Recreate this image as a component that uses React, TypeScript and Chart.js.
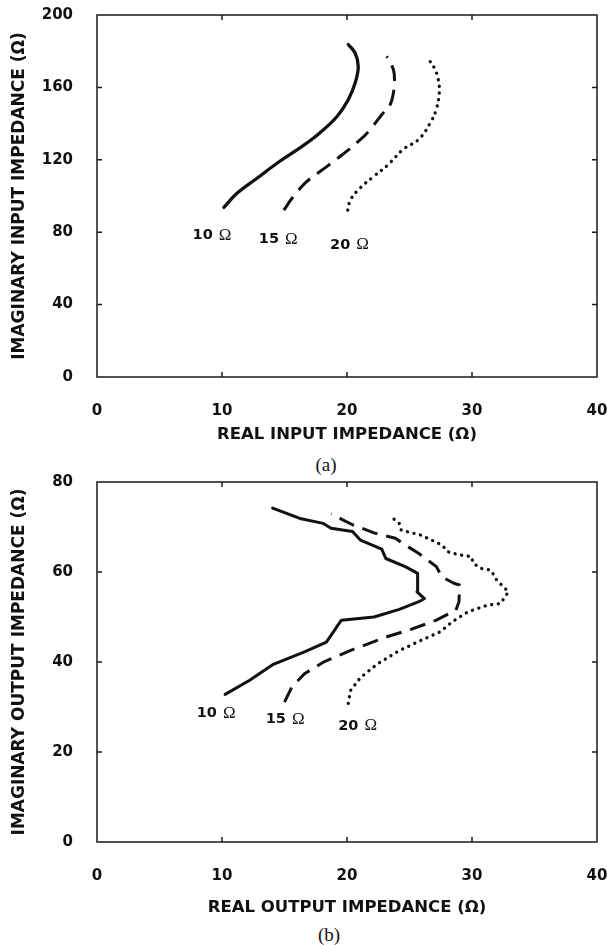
import React, { useEffect, useRef } from "react";
import { Chart, registerables } from "chart.js";

Chart.register(...registerables);

// ---------- shared ----------
const LOAD_NUMBERS = ["10", "15", "20"];
const X_MIN = 0;
const X_MAX = 40;
const X_STEP = 10;

// ---------- (a) input impedance ----------
const A_Y_MAX = 200;
const A_Y_STEP = 40;
const A_X_TITLE = "REAL INPUT IMPEDANCE (Ω)";
const A_Y_TITLE = "IMAGINARY INPUT IMPEDANCE (Ω)";

const aReal10 = [10.15, 11.2, 12.8, 14.4, 16.2, 17.8, 19.2, 20.1, 20.65, 20.9, 20.65, 20.1];
const aImag10 = [93.7, 101.5, 109.8, 118.1, 126.4, 134.7, 143.9, 153.2, 162.4, 171.6, 179.0, 183.7];

const aReal15 = [14.95, 15.7, 16.77, 17.84, 19.44, 21.04, 21.84, 22.78, 23.45, 23.71, 23.8, 23.71, 23.18];
const aImag15 = [92.2, 99.6, 107.9, 113.5, 121.8, 131.0, 136.6, 144.9, 150.4, 156.9, 163.3, 169.8, 177.2];

const aReal20 = [20.06, 20.3, 21.08, 22.17, 23.26, 24.5, 25.74, 26.67, 27.14, 27.38, 27.3, 26.98, 26.5];
const aImag20 = [92.2, 98.2, 104.6, 111.0, 117.1, 125.8, 131.3, 140.5, 147.9, 157.0, 164.4, 170.8, 175.8];

const aLabelX = [9.2, 14.5, 20.2];
const aLabelY = [78.4, 76.0, 73.0];

// ---------- (b) output impedance ----------
const B_Y_MAX = 80;
const B_Y_STEP = 20;
const B_X_TITLE = "REAL OUTPUT IMPEDANCE (Ω)";
const B_Y_TITLE = "IMAGINARY OUTPUT IMPEDANCE (Ω)";

const bReal10 = [10.25, 12.18, 14.05, 16.55, 18.35, 19.55, 22.16, 24.18, 25.75, 26.2, 25.6, 25.65, 24.66, 23.1, 22.78, 21.07, 20.44, 18.73, 18.1, 16.23, 14.05];
const bImag10 = [32.8, 35.9, 39.4, 42.2, 44.4, 49.3, 50.0, 51.7, 53.4, 54.1, 55.6, 59.7, 61.2, 63.0, 65.1, 67.1, 69.0, 69.7, 70.8, 71.9, 74.2];

const bReal15 = [15.0, 15.6, 16.6, 18.2, 20.4, 23.2, 25.28, 27.15, 28.71, 28.96, 29.0, 28.55, 27.6, 27.15, 25.75, 24.66, 23.87, 22.16, 20.44, 19.66, 18.73];
const bImag15 = [31.1, 34.5, 37.4, 40.1, 42.7, 45.6, 47.4, 49.3, 51.5, 53.4, 57.1, 57.5, 58.9, 61.2, 64.1, 66.0, 67.5, 68.7, 70.5, 71.6, 72.9];

const bReal20 = [20.1, 20.29, 21.1, 22.45, 24.1, 25.9, 27.46, 28.4, 29.64, 31.2, 32.29, 32.91, 31.98, 31.52, 30.73, 30.11, 29.95, 29.0, 28.07, 27.6, 25.9, 24.34, 24.18, 23.7];
const bImag20 = [30.8, 33.7, 36.6, 39.6, 42.4, 44.8, 46.7, 48.9, 51.1, 52.6, 53.0, 55.6, 58.2, 60.4, 60.8, 61.9, 63.4, 63.8, 64.5, 66.0, 68.2, 69.3, 70.8, 71.9];

const bLabelX = [9.53, 15.05, 20.85];
const bLabelY = [28.6, 27.3, 25.8];

// ---------- helpers ----------
const zip = (xs: number[], ys: number[]) => xs.map((x, i) => ({ x, y: ys[i] }));

const INK = "#111111";
const SANS = "'DejaVu Sans', sans-serif";
const SERIF = "'Liberation Serif', 'Times New Roman', serif";

const frameTicksPlugin = {
  id: "frameTicks",
  afterDraw(chart: any, _args: any, opts: any) {
    const { ctx, chartArea: a, scales } = chart;
    const xs = scales.x;
    const ys = scales.y;
    ctx.save();
    ctx.strokeStyle = "#1a1a1a";
    ctx.lineWidth = 1.5;
    ctx.strokeRect(a.left, a.top, a.right - a.left, a.bottom - a.top);
    const L = 5;
    ctx.beginPath();
    xs.ticks.forEach((t: any) => {
      const p = xs.getPixelForValue(t.value);
      if (p <= a.left + 1 || p >= a.right - 1) return;
      ctx.moveTo(p, a.bottom);
      ctx.lineTo(p, a.bottom - L);
      ctx.moveTo(p, a.top);
      ctx.lineTo(p, a.top + L);
    });
    ys.ticks.forEach((t: any) => {
      const p = ys.getPixelForValue(t.value);
      if (p <= a.top + 1 || p >= a.bottom - 1) return;
      ctx.moveTo(a.left, p);
      ctx.lineTo(a.left + L, p);
      ctx.moveTo(a.right, p);
      ctx.lineTo(a.right - L, p);
    });
    ctx.stroke();

    // curve labels
    const labels = (opts && opts.labels) || [];
    ctx.fillStyle = INK;
    ctx.textBaseline = "middle";
    ctx.textAlign = "left";
    labels.forEach((lb: any) => {
      const cx = xs.getPixelForValue(lb.x);
      const cy = ys.getPixelForValue(lb.y);
      const numFont = `bold 14.5px ${SANS}`;
      const omFont = `17px ${SERIF}`;
      ctx.font = numFont;
      const wNum = ctx.measureText(lb.num).width;
      ctx.font = omFont;
      const wOm = ctx.measureText("Ω").width;
      const gap = 6;
      const total = wNum + gap + wOm;
      const x0 = cx - total / 2;
      ctx.font = numFont;
      ctx.fillText(lb.num, x0, cy);
      ctx.font = omFont;
      ctx.fillText("Ω", x0 + wNum + gap, cy);
    });
    ctx.restore();
  },
};

type PanelSpec = {
  top: number;
  height: number;
  xAxisH: number;
  yMax: number;
  yStep: number;
  xTitle: string;
  yTitle: string;
  series: { x: number[]; y: number[] }[];
  labelX: number[];
  labelY: number[];
  tension: number;
  solidWidth: number;
};

function Panel({ spec }: { spec: PanelSpec }) {
  const ref = useRef<HTMLCanvasElement>(null);
  useEffect(() => {
    if (!ref.current) return;
    const styles = [
      { borderDash: [] as number[], borderWidth: spec.solidWidth, borderCapStyle: "round" },
      { borderDash: [16, 9], borderWidth: 3, borderCapStyle: "butt" },
      { borderDash: [0.1, 6.6], borderWidth: 3.3, borderCapStyle: "round" },
    ];
    const datasets = spec.series.map((s, i) => ({
      label: LOAD_NUMBERS[i] + " Ω",
      data: zip(s.x, s.y),
      showLine: true,
      borderColor: INK,
      backgroundColor: INK,
      pointRadius: 0,
      pointHoverRadius: 0,
      tension: spec.tension,
      borderJoinStyle: "round",
      ...styles[i],
    }));
    const labels = LOAD_NUMBERS.map((num, i) => ({ num, x: spec.labelX[i], y: spec.labelY[i] }));
    const tickFont = { family: SANS, weight: "bold" as const, size: 15 };
    const chart = new Chart(ref.current, {
      type: "scatter",
      data: { datasets: datasets as any },
      plugins: [frameTicksPlugin as any],
      options: {
        animation: false,
        responsive: true,
        maintainAspectRatio: false,
        layout: { padding: { top: 15, right: 10, left: 0, bottom: 0 } },
        plugins: {
          legend: { display: false },
          tooltip: { enabled: false },
          frameTicks: { labels },
        } as any,
        scales: {
          x: {
            type: "linear",
            min: X_MIN,
            max: X_MAX,
            grid: { display: false },
            border: { display: false },
            ticks: { stepSize: X_STEP, padding: 17, color: INK, font: tickFont, maxRotation: 0 },
            title: {
              display: true,
              text: spec.xTitle,
              color: INK,
              font: { family: SANS, weight: "bold", size: 16.5 },
              padding: { top: 0, bottom: 2.4 },
            },
            afterFit: (s: any) => {
              s.height = spec.xAxisH;
              s.paddingLeft = 0;
              s.paddingRight = 0;
            },
          },
          y: {
            type: "linear",
            min: 0,
            max: spec.yMax,
            grid: { display: false },
            border: { display: false },
            ticks: { stepSize: spec.yStep, padding: 16, color: INK, font: tickFont },
            title: {
              display: true,
              text: spec.yTitle,
              color: INK,
              font: { family: SANS, weight: "bold", size: 17 },
              padding: { top: 9, bottom: 0 },
            },
            afterFit: (s: any) => {
              s.width = 97;
              s.paddingTop = 0;
              s.paddingBottom = 0;
            },
          },
        },
      } as any,
    });
    return () => chart.destroy();
  }, []);
  return (
    <div style={{ position: "absolute", left: 0, top: spec.top, width: 607, height: spec.height }}>
      <canvas ref={ref} />
    </div>
  );
}

const panelA: PanelSpec = {
  top: 0,
  height: 447,
  xAxisH: 70,
  yMax: A_Y_MAX,
  yStep: A_Y_STEP,
  xTitle: A_X_TITLE,
  yTitle: A_Y_TITLE,
  series: [
    { x: aReal10, y: aImag10 },
    { x: aReal15, y: aImag15 },
    { x: aReal20, y: aImag20 },
  ],
  labelX: aLabelX,
  labelY: aLabelY,
  tension: 0.4,
  solidWidth: 3.3,
};

const panelB: PanelSpec = {
  top: 467,
  height: 453,
  xAxisH: 78,
  yMax: B_Y_MAX,
  yStep: B_Y_STEP,
  xTitle: B_X_TITLE,
  yTitle: B_Y_TITLE,
  series: [
    { x: bReal10, y: bImag10 },
    { x: bReal15, y: bImag15 },
    { x: bReal20, y: bImag20 },
  ],
  labelX: bLabelX,
  labelY: bLabelY,
  tension: 0,
  solidWidth: 3,
};

const captionStyle: React.CSSProperties = {
  position: "absolute",
  width: 100,
  textAlign: "center",
  fontFamily: SERIF,
  fontSize: 19,
  lineHeight: "22px",
  color: INK,
};

export default function App() {
  return (
    <div style={{ position: "absolute", left: 0, top: 0, width: 607, height: 945, background: "#fff", overflow: "hidden" }}>
      <Panel spec={panelA} />
      <div style={{ ...captionStyle, left: 276, top: 454 }}>(a)</div>
      <Panel spec={panelB} />
      <div style={{ ...captionStyle, left: 279, top: 924 }}>(b)</div>
    </div>
  );
}
